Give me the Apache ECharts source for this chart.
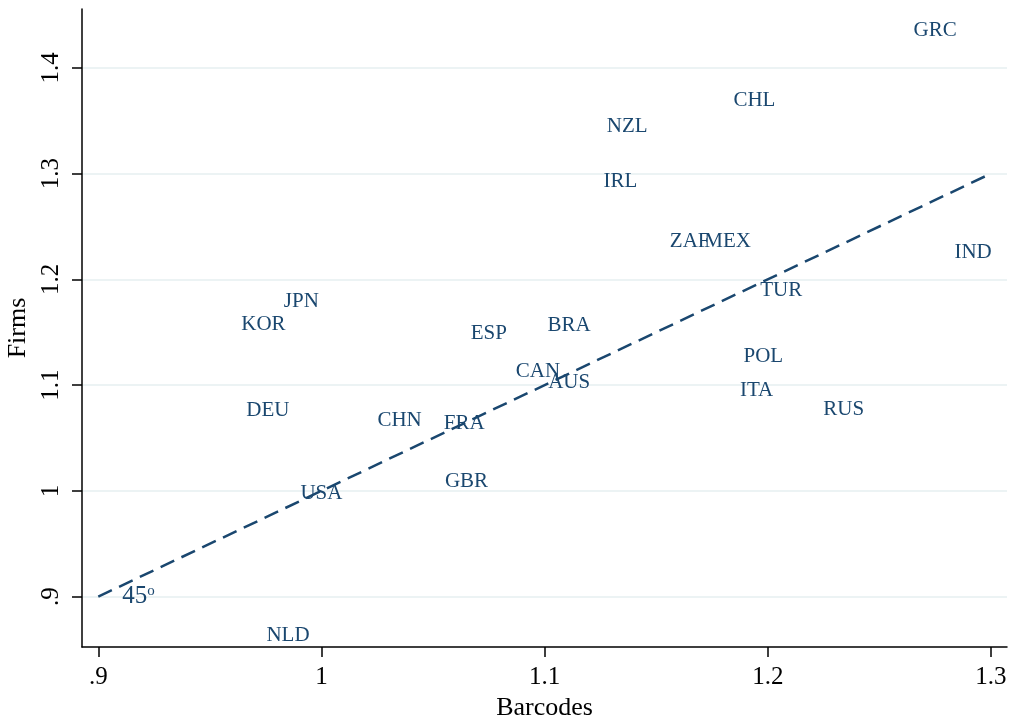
<!DOCTYPE html>
<html>
<head>
<meta charset="utf-8">
<script src="https://cdn.jsdelivr.net/npm/echarts@6/dist/echarts.min.js"></script>
<style>
  html, body { margin: 0; padding: 0; background: #fff; }
  #chart { width: 1010px; height: 719px; }
</style>
</head>
<body>
<div id="chart"></div>
<script>
// Country codes and their ratios (Barcodes on x, Firms on y)
const countries = ['GRC','CHL','NZL','IRL','ZAF','MEX','IND','TUR','POL','ITA','RUS','JPN','KOR','DEU','USA','NLD','ESP','BRA','CAN','AUS','CHN','FRA','GBR'];
const barcodes  = [1.275,1.194,1.137,1.134,1.165,1.182,1.292,1.206,1.198,1.195,1.234,0.991,0.974,0.976,1.000,0.985,1.075,1.111,1.097,1.111,1.035,1.064,1.065];
const firms     = [1.437,1.371,1.346,1.294,1.238,1.238,1.227,1.191,1.129,1.097,1.079,1.181,1.159,1.078,0.999,0.865,1.151,1.158,1.115,1.104,1.068,1.066,1.011];

// 45-degree reference line endpoints
const diagonal = [0.9, 1.3];

// Axis ticks and their printed labels
const xTicks = [0.9, 1.0, 1.1, 1.2, 1.3];
const xTickLabels = ['.9', '1', '1.1', '1.2', '1.3'];
const yTicks = [0.9, 1.0, 1.1, 1.2, 1.3, 1.4];
const yTickLabels = ['.9', '1', '1.1', '1.2', '1.3', '1.4'];

const navy = '#1a476f';
const serif = '"Liberation Serif", "DejaVu Serif", serif';

function tickLabel(ticks, labels) {
  return function (v) {
    for (let i = 0; i < ticks.length; i++) {
      if (Math.abs(ticks[i] - v) < 1e-6) return labels[i];
    }
    return '';
  };
}

const points = countries.map((c, i) => [barcodes[i], firms[i], c]);

const chart = echarts.init(document.getElementById('chart'), null, { renderer: 'canvas' });
chart.setOption({
  backgroundColor: '#ffffff',
  animation: false,
  grid: { left: 82, right: 3, top: 9, bottom: 72, containLabel: false, outerBoundsMode: 'none' },
  xAxis: {
    type: 'value',
    min: 0.8927, max: 1.3072,
    name: 'Barcodes',
    nameLocation: 'middle',
    nameGap: 46,
    nameTextStyle: { fontFamily: serif, fontSize: 26, color: '#000' },
    axisLine: { show: true, lineStyle: { color: '#000', width: 1.5 } },
    axisTick: { show: true, length: 10, inside: false, customValues: xTicks, lineStyle: { color: '#000', width: 1.5 } },
    axisLabel: { customValues: xTicks, formatter: tickLabel(xTicks, xTickLabels), fontFamily: serif, fontSize: 25, color: '#000', margin: 18 },
    splitLine: { show: false }
  },
  yAxis: {
    type: 'value',
    min: 0.8524, max: 1.4556,
    name: 'Firms',
    nameLocation: 'middle',
    nameRotate: 90,
    nameGap: 43,
    nameTextStyle: { fontFamily: serif, fontSize: 26, color: '#000' },
    axisLine: { show: true, lineStyle: { color: '#000', width: 1.5 } },
    axisTick: { show: true, length: 10, inside: false, customValues: yTicks, lineStyle: { color: '#000', width: 1.5 } },
    axisLabel: { customValues: yTicks, formatter: tickLabel(yTicks, yTickLabels), rotate: 90, fontFamily: serif, fontSize: 25, color: '#000', margin: 18 },
    splitLine: { show: false }
  },
  series: [
    {
      // horizontal grid lines at each y tick, kept beneath everything else
      type: 'line',
      data: [],
      silent: true,
      z: 0,
      markLine: {
        z: 0,
        symbol: 'none',
        silent: true,
        label: { show: false },
        lineStyle: { color: '#e6eff1', width: 1.5, type: 'solid' },
        data: yTicks.map(v => ({ yAxis: v }))
      }
    },
    {
      type: 'line',
      data: [[diagonal[0], diagonal[0]], [diagonal[1], diagonal[1]]],
      symbol: 'none',
      silent: true,
      lineStyle: { color: navy, width: 2.5, type: [15, 8] },
      z: 3
    },
    {
      type: 'scatter',
      data: points,
      symbolSize: 0,
      itemStyle: { color: navy },
      label: {
        show: true,
        position: [0, 0],
        offset: [0, 2],
        align: 'center',
        verticalAlign: 'middle',
        formatter: p => p.data[2],
        fontFamily: serif,
        fontSize: 21,
        color: navy,
        textBorderWidth: 0,
        opacity: 1
      },
      z: 4
    },
    {
      type: 'scatter',
      data: [[0.918, 0.902]],
      symbolSize: 0,
      itemStyle: { color: navy },
      label: {
        show: true,
        position: [0, 0],
        offset: [0, 2],
        align: 'center',
        verticalAlign: 'middle',
        formatter: '{a|45}{b|o}',
        fontFamily: serif,
        fontSize: 25,
        color: navy,
        textBorderWidth: 0,
        opacity: 1,
        rich: {
          a: { fontFamily: serif, fontSize: 25, color: navy, lineHeight: 25, textBorderWidth: 0 },
          b: { fontFamily: serif, fontSize: 15, color: navy, verticalAlign: 'top', lineHeight: 25, textBorderWidth: 0 }
        }
      },
      z: 4
    }
  ]
});
</script>
</body>
</html>
